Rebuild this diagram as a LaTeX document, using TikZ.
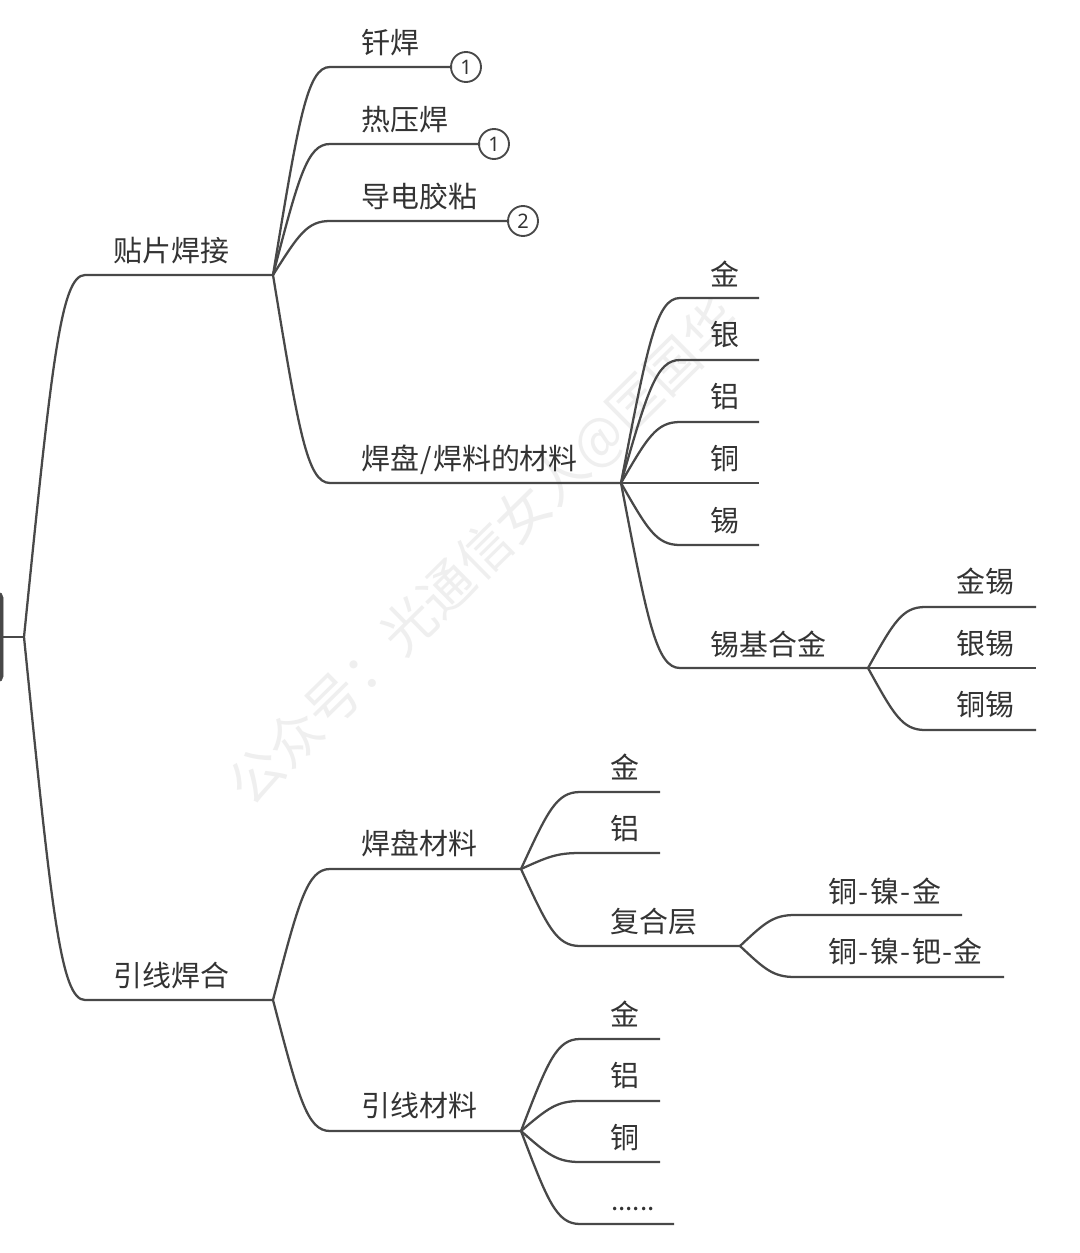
\documentclass[tikz,border=0pt]{standalone}
\usepackage{fontspec}
\setmainfont{Noto Sans CJK SC}
\newfontfamily\numfont{Noto Sans}
\usetikzlibrary{calc}
\definecolor{linec}{HTML}{484848}
\definecolor{textc}{HTML}{333333}
\definecolor{wmark}{HTML}{EFEFEF}
\tikzset{
  conn/.style={draw=linec,line width=1.7pt,line cap=butt},
  lbl/.style={anchor=base west,inner sep=0pt,xshift=-0.75pt,yshift=-0.75pt,text=textc,font=\fontsize{21.7pt}{26pt}\selectfont},
  badge/.style={circle,draw=linec,line width=1.4pt,fill=white,minimum size=22.5pt,inner sep=0pt,text=textc,font=\numfont\fontsize{15pt}{18pt}\selectfont},
  rootbox/.style={draw=linec,fill=linec,rounded corners=4pt,minimum width=27pt,minimum height=67.5pt,inner sep=0pt},
  wm/.style={rotate=44.6,anchor=center,inner sep=0pt,text=wmark,font=\fontsize{40pt}{48pt}\selectfont}
}
\newcommand{\hy}{\kern1.1pt-\kern1.1pt}
% name, hub, knot x, line y, end x, label x, label baseline y, label text
\newcommand{\leafbranch}[8]{%
  \coordinate (#1k) at (#3,#4);
  \coordinate (#1e) at (#5,#4);
  \node[lbl] (#1) at (#6,#7) {#8};
  \draw[conn] let \p1=(#2),\p2=(#1k) in (#2)
     .. controls ({\x1+0.45*(\x2-\x1)},{\y1+0.75*(\y2-\y1)}) and ({\x1+0.6*(\x2-\x1)},\y2) .. (#1k) -- (#1e);
}
\begin{document}
\begin{tikzpicture}[x=0.75pt,y=-0.75pt]
\useasboundingbox (0,0) rectangle (1080,1253);
\clip (0,0) rectangle (1080,1253);
\fill[white] (0,0) rectangle (1080,1253);
\node[wm] (wmk) at (485,553) {公众号：光通信女人@匡国华};
\node[rootbox] (root) at (-15,637) {};
\coordinate (hub) at (24,637);
\draw[conn] (root.east) -- (hub);
\leafbranch{a}{hub}{85}{275}{273}{114}{260}{贴片焊接}
\leafbranch{b}{hub}{85}{1000}{273}{114}{985}{引线焊合}
\node[badge] (c1) at (466,67) {1};
\node[badge] (c2) at (494,144) {1};
\node[badge] (c3) at (523,221) {2};
\leafbranch{a1}{ae}{330}{67}{452}{362}{52}{钎焊}
\leafbranch{a2}{ae}{330}{144}{480}{362}{129}{热压焊}
\leafbranch{a3}{ae}{330}{221}{509}{362}{206}{导电胶粘}
\leafbranch{a4}{ae}{330}{483}{621}{362}{468}{焊盘\kern1pt/\kern1pt焊料的材料}
\leafbranch{m1}{a4e}{680}{298}{759}{711}{284}{金}
\leafbranch{m2}{a4e}{680}{360}{759}{711}{344}{银}
\leafbranch{m3}{a4e}{680}{422}{759}{711}{406}{铝}
\draw[conn] (a4e) -- (759,483) coordinate (m4e);
\node[lbl] (m4) at (711,468) {铜};
\leafbranch{m5}{a4e}{680}{545}{759}{711}{530}{锡}
\leafbranch{m6}{a4e}{680}{668}{868}{711}{654}{锡基合金}
\leafbranch{s1}{m6e}{925}{607}{1036}{957}{591}{金锡}
\draw[conn] (m6e) -- (1036,668) coordinate (s2e);
\node[lbl] (s2) at (957,653) {银锡};
\leafbranch{s3}{m6e}{925}{730}{1036}{957}{714}{铜锡}
\leafbranch{b1}{be}{330}{869}{521}{362}{853}{焊盘材料}
\leafbranch{b2}{be}{330}{1131}{521}{362}{1115}{引线材料}
\leafbranch{p1}{b1e}{580}{792}{660}{611}{777}{金}
\leafbranch{p2}{b1e}{580}{853}{660}{611}{838}{铝}
\leafbranch{p3}{b1e}{580}{946}{740}{611}{931}{复合层}
\leafbranch{q1}{p3e}{795}{915}{962}{829}{901}{铜\hy 镍\hy 金}
\leafbranch{q2}{p3e}{795}{977}{1004}{829}{961}{铜\hy 镍\hy 钯\hy 金}
\leafbranch{w1}{b2e}{580}{1039}{660}{611}{1024}{金}
\leafbranch{w2}{b2e}{580}{1101}{660}{611}{1085}{铝}
\leafbranch{w3}{b2e}{580}{1162}{660}{611}{1147}{铜}
\leafbranch{w4}{b2e}{580}{1224}{674}{612}{1209}{\fontsize{19.5pt}{24pt}\selectfont ......}
\end{tikzpicture}
\end{document}
